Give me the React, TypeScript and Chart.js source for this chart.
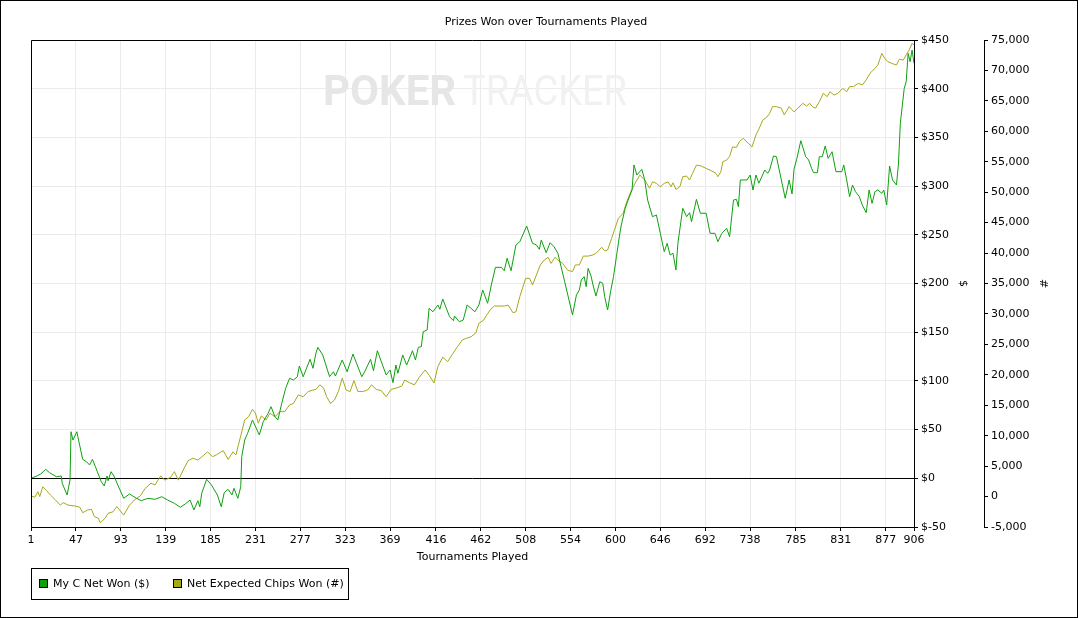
import { useEffect, useRef } from 'react'
import { Chart, registerables } from 'chart.js'

Chart.register(...registerables)

const chartTitle = 'Prizes Won over Tournaments Played'

// tournament numbers shown under the x axis
const xTickLabels = [1, 47, 93, 139, 185, 231, 277, 323, 369, 416, 462, 508, 554, 600, 646, 692, 738, 785, 831, 877, 906]

// My C Net Won ($), sampled tournament numbers and values
const wonX = [
  1, 7, 11, 16, 20, 27, 32, 33, 38, 41,
  42, 44, 48, 49, 54, 58, 61, 64, 67, 73,
  76, 79, 80, 83, 86, 90, 96, 102, 109, 114,
  121, 128, 135, 141, 148, 154, 159, 164, 168, 172,
  174, 176, 181, 186, 192, 196, 199, 203, 207, 209,
  213, 216, 217, 220, 223, 228, 235, 239, 244, 247,
  251, 254, 258, 262, 266, 270, 274, 276, 280, 287,
  290, 293, 295, 300, 307, 311, 313, 320, 325, 331,
  340, 343, 349, 352, 356, 365, 369, 372, 375, 377,
  382, 386, 392, 395, 398, 401, 403, 407, 409, 413,
  418, 420, 423, 430, 434, 435, 440, 444, 448, 452,
  456, 460, 464, 469, 473, 477, 483, 486, 489, 493,
  498, 502, 509, 515, 519, 522, 524, 529, 533, 537,
  541, 548, 556, 560, 563, 565, 568, 570, 572, 575,
  577, 580, 584, 587, 589, 592, 595, 598, 601, 604,
  606, 610, 613, 617, 619, 622, 627, 630, 633, 638,
  642, 646, 650, 653, 656, 659, 662, 664, 669, 673,
  676, 678, 683, 687, 693, 697, 702, 705, 709, 714,
  717, 721, 724, 726, 728, 735, 738, 741, 744, 747,
  753, 756, 758, 762, 765, 774, 778, 781, 783, 786,
  790, 795, 798, 801, 803, 807, 809, 812, 815, 818,
  822, 826, 832, 834, 837, 840, 843, 846, 850, 853,
  857, 860, 863, 866, 869, 873, 875, 878, 881, 884,
  888, 890, 892, 896, 898, 900, 902, 904, 906,
]
const wonDollars = [
  0, 2.4, 4.4, 9.2, 5.8, 1.6, 2.4, -5.1, -17.1, -1.7,
  47.8, 39.3, 47.8, 42.7, 19.5, 17, 13.7, 19.5, 11.9, -3.5,
  -7.9, 2.4, -2.5, 6.8, 2.4, -6.9, -20.5, -16.1, -20.5, -23,
  -20.5, -21.6, -18.9, -22.3, -25.7, -29.8, -26.4, -22.3, -32.5, -23,
  -29.2, -15.4, -1, -6.9, -17.1, -29.2, -14.8, -11.3, -17.1, -10.3,
  -20.5, -8.6, 22.2, 39.3, 46.2, 59.9, 44.5, 58.1, 66.7, 73.5,
  63.2, 59.9, 77, 92.4, 102.7, 100.9, 104.3, 115.3, 104.3, 122.2,
  112.9, 128.3, 134.5, 126.6, 104.3, 109.4, 105, 121.5, 109.4, 127.6,
  104.3, 109.4, 122.2, 110.5, 131, 106.1, 111.2, 98.2, 116.3, 107.8,
  126.6, 116.3, 131, 121.5, 134.5, 135.1, 150.5, 152.3, 174.5, 171,
  177.9, 173.5, 184.1, 165.9, 161.8, 166.6, 160.8, 162.5, 177.9, 174.5,
  171, 177.9, 193.3, 179.7, 199.5, 216.6, 216.6, 213.1, 225.9, 213.1,
  239.5, 242.9, 259, 241.3, 239.5, 235.1, 244.7, 231.6, 241.9, 237.8,
  231, 201.8, 167.7, 188.2, 193.3, 203.6, 207, 196.7, 215.6, 207.7,
  198.5, 187.2, 201.8, 200.2, 186.4, 172.8, 191.6, 207, 227.5, 248.1,
  260.1, 277.2, 285.7, 296, 321.7, 311.4, 317.2, 306.3, 285.7, 268.6,
  270.3, 251.5, 232.7, 241.3, 229.3, 231, 213.9, 241.3, 277.2, 268.6,
  272.7, 263.5, 286.4, 272.1, 272.1, 251.5, 251.5, 242.9, 251.5, 256.7,
  248.1, 285.7, 286.4, 278.9, 306.3, 306.3, 311.4, 296, 311.4, 302.9,
  316.5, 313.1, 316.5, 330.9, 330.2, 287.5, 306.3, 291.9, 317.2, 328.5,
  346.6, 330.2, 326.8, 318.3, 313.8, 313.8, 330.2, 330.2, 341.2, 328.5,
  335.3, 314.8, 314.8, 321.7, 306.3, 289.1, 301.1, 294.3, 289.1, 280.6,
  272.7, 296, 282.3, 294.3, 296, 292.6, 296, 280.6, 320.6, 306.3,
  301.1, 321.7, 364.5, 400.4, 407.2, 436.3, 427.7, 439.7, 426.1,
]

// Net Expected Chips Won (#)
const chipsX = [
  1, 5, 8, 10, 13, 17, 21, 26, 31, 34,
  39, 46, 51, 54, 59, 63, 66, 70, 72, 77,
  80, 85, 89, 96, 102, 107, 113, 118, 124, 128,
  134, 138, 144, 148, 152, 157, 162, 167, 172, 177,
  182, 187, 191, 198, 203, 208, 211, 214, 217, 220,
  224, 228, 231, 234, 237, 242, 246, 251, 256, 261,
  266, 270, 275, 280, 285, 290, 293, 297, 301, 304,
  308, 312, 316, 320, 324, 328, 332, 336, 341, 346,
  350, 355, 360, 365, 370, 375, 381, 384, 389, 394,
  399, 405, 409, 414, 418, 423, 428, 433, 438, 443,
  447, 452, 457, 460, 465, 468, 472, 476, 481, 486,
  490, 495, 498, 502, 508, 512, 515, 519, 523, 527,
  531, 534, 538, 541, 546, 551, 556, 559, 563, 567,
  572, 577, 580, 586, 589, 592, 596, 599, 603, 608,
  611, 615, 620, 625, 630, 635, 638, 642, 646, 650,
  654, 657, 659, 662, 666, 669, 673, 676, 679, 683,
  688, 693, 698, 703, 705, 708, 710, 714, 717, 720,
  724, 727, 731, 736, 740, 744, 747, 751, 755, 758,
  761, 765, 770, 773, 778, 783, 787, 792, 796, 799,
  802, 805, 809, 813, 817, 820, 824, 828, 833, 837,
  840, 844, 849, 853, 857, 861, 866, 869, 873, 876,
  879, 885, 888, 891, 895, 898, 901, 904, 906,
]
const chipsNet = [
  100, -100, 800, 0, 1600, 950, 250, -550, -1400, -1000,
  -1400, -1550, -1750, -2650, -2200, -2100, -3300, -3550, -4300, -3550,
  -2750, -2500, -1650, -3050, -1400, -550, 100, 1350, 2200, 1900,
  3400, 2700, 3150, 4100, 2700, 4350, 5900, 6300, 6000, 6650,
  7350, 6550, 6850, 7550, 6100, 7350, 6850, 8750, 10600, 12600,
  13100, 14350, 13700, 12050, 13250, 12600, 13700, 13100, 13950, 13950,
  15050, 15300, 16700, 16400, 17250, 17500, 17600, 18350, 17800, 16400,
  15300, 15850, 17250, 19450, 17500, 17250, 19050, 17250, 17250, 17500,
  18350, 17600, 17400, 16400, 17600, 17800, 18150, 19150, 18700, 18350,
  19600, 20800, 19950, 18650, 21350, 22900, 22150, 23400, 24600, 25700,
  26000, 26250, 26900, 28450, 29000, 29800, 30750, 31300, 31300, 31300,
  31450, 30200, 30350, 32850, 35850, 35850, 34750, 36400, 38050, 38850,
  39300, 38300, 39300, 38850, 38300, 37200, 36950, 38050, 38050, 39500,
  39500, 39700, 39950, 40950, 40350, 40500, 42400, 43800, 45700, 46550,
  48150, 49800, 51450, 52800, 52000, 50650, 51700, 51450, 50900, 51450,
  51700, 50900, 51550, 50450, 50900, 52550, 52650, 52000, 53100, 54450,
  54300, 53900, 53550, 53100, 52550, 53350, 55000, 55300, 55850, 57450,
  57350, 58300, 58850, 58050, 57450, 59400, 60350, 61850, 62300, 62950,
  64050, 64050, 63800, 62700, 64050, 63200, 63800, 64600, 64150, 64600,
  64050, 63800, 64850, 66250, 65700, 66500, 65950, 66250, 67050, 66500,
  67350, 67350, 67900, 67600, 68450, 69550, 70350, 70900, 72800, 72000,
  71450, 71050, 70900, 71850, 71700, 72550, 73350, 74450, 74200,
]

const GREEN = '#0ea00e'
const OLIVE = '#a7a71c'
const GRID = '#ebebeb'
const FONT = 'DejaVu Sans'

const framePlugin = {
  id: 'ptFrame',
  beforeDatasetsDraw(chart: any) {
    const { ctx, chartArea: a, scales } = chart
    ctx.save()
    // watermark
    ctx.textBaseline = 'alphabetic'
    ctx.textAlign = 'left'
    ctx.font = 'bold 42px Roboto'
    ctx.fillStyle = '#e6e6e6'
    ctx.fillText('POKER', 323, 105, 137)
    ctx.font = '42px Roboto'
    ctx.fillStyle = '#f1f1f1'
    ctx.fillText('TRACKER', 463, 105, 164)
    // zero line
    const y0 = Math.round(scales.y.getPixelForValue(0)) + 0.5
    ctx.strokeStyle = '#000'
    ctx.lineWidth = 1
    ctx.beginPath()
    ctx.moveTo(a.left, y0)
    ctx.lineTo(a.right, y0)
    ctx.stroke()
    ctx.restore()
  },
  afterDraw(chart: any) {
    const { ctx, chartArea: a } = chart
    ctx.save()
    ctx.strokeStyle = '#000'
    ctx.lineWidth = 1
    // title
    ctx.fillStyle = '#000'
    ctx.font = `11px ${FONT}`
    ctx.textAlign = 'center'
    ctx.textBaseline = 'middle'
    ctx.fillText(chartTitle, 546, 22)
    // top and left edges of the plot
    ctx.beginPath()
    ctx.moveTo(Math.round(a.left) + 0.5, Math.round(a.bottom))
    ctx.lineTo(Math.round(a.left) + 0.5, Math.round(a.top) + 0.5)
    ctx.lineTo(Math.round(a.right), Math.round(a.top) + 0.5)
    ctx.stroke()
    // outer frame
    ctx.strokeRect(0.5, 0.5, chart.width - 1, chart.height - 1)
    // legend box
    ctx.strokeRect(31.5, 568.5, 317, 31)
    ctx.textBaseline = 'middle'
    ctx.textAlign = 'left'
    const items = [
      { x: 39, ds: chart.data.datasets[0] },
      { x: 173, ds: chart.data.datasets[1] },
    ]
    items.forEach(({ x, ds }) => {
      ctx.fillStyle = ds.borderColor
      ctx.fillRect(x, 579, 9, 9)
      ctx.strokeRect(x + 0.5, 579.5, 8, 8)
      ctx.fillStyle = '#000'
      ctx.fillText(ds.label, x + 14, 584)
    })
    ctx.restore()
  },
}

const PrizesChart = () => {
  const canvasRef = useRef<HTMLCanvasElement>(null)
  const chartRef = useRef<Chart | null>(null)

  useEffect(() => {
    if (!canvasRef.current) return
    Chart.defaults.font.family = FONT
    Chart.defaults.font.size = 11
    Chart.defaults.color = '#000'

    chartRef.current = new Chart(canvasRef.current, {
      type: 'line',
      data: {
        datasets: [
          {
            label: 'My C Net Won ($)',
            data: wonX.map((x, i) => ({ x, y: wonDollars[i] })),
            borderColor: GREEN,
            backgroundColor: GREEN,
            borderWidth: 1,
            pointRadius: 0,
            tension: 0,
            yAxisID: 'y',
          },
          {
            label: 'Net Expected Chips Won (#)',
            data: chipsX.map((x, i) => ({ x, y: chipsNet[i] })),
            borderColor: OLIVE,
            backgroundColor: OLIVE,
            borderWidth: 1,
            pointRadius: 0,
            tension: 0,
            yAxisID: 'y2',
          },
        ],
      },
      options: {
        responsive: false,
        animation: false,
        layout: { padding: { left: 31, right: 0, top: 40, bottom: 46 } },
        plugins: {
          legend: { display: false },
          tooltip: { enabled: false },
          title: { display: false },
        },
        scales: {
          x: {
            type: 'linear',
            min: 1,
            max: 906,
            afterBuildTicks: (axis: any) => {
              axis.ticks = xTickLabels.map((v) => ({ value: v }))
            },
            afterFit: (axis: any) => {
              axis.height = 45
            },
            ticks: {
              autoSkip: false,
              maxRotation: 0,
              padding: 3,
              callback: (v: any) => String(v),
            },
            grid: { color: GRID, tickColor: '#000', tickLength: 4 },
            border: { color: '#000' },
            title: {
              display: true,
              text: 'Tournaments Played',
              padding: { top: 0, bottom: 8 },
            },
          },
          y: {
            position: 'right',
            min: -50,
            max: 450,
            ticks: { stepSize: 50, padding: 3, callback: (v: any) => '$' + v },
            afterFit: (axis: any) => {
              axis.width = 70
            },
            grid: { color: GRID, tickColor: '#000', tickLength: 4 },
            border: { color: '#000' },
            title: { display: true, text: '$', padding: { top: 14.4, bottom: 0 } },
          },
          y2: {
            position: 'right',
            min: -5000,
            max: 75000,
            ticks: {
              stepSize: 5000,
              padding: 3,
              callback: (v: any) => Number(v).toLocaleString('en-US'),
            },
            afterFit: (axis: any) => {
              axis.width = 94
            },
            grid: { drawOnChartArea: false, tickColor: '#000', tickLength: 4 },
            border: { color: '#000' },
            title: { display: true, text: '#', padding: { top: 28.4, bottom: 0 } },
          },
        },
      } as any,
      plugins: [framePlugin],
    })

    return () => {
      if (chartRef.current) {
        chartRef.current.destroy()
      }
    }
  }, [])

  return (
    <div style={{ position: 'absolute', left: 0, top: 0, width: 1078, height: 618, background: '#fff' }}>
      <canvas ref={canvasRef} width={1078} height={618} style={{ display: 'block' }}></canvas>
    </div>
  )
}

export default function App() {
  return <PrizesChart />
}
